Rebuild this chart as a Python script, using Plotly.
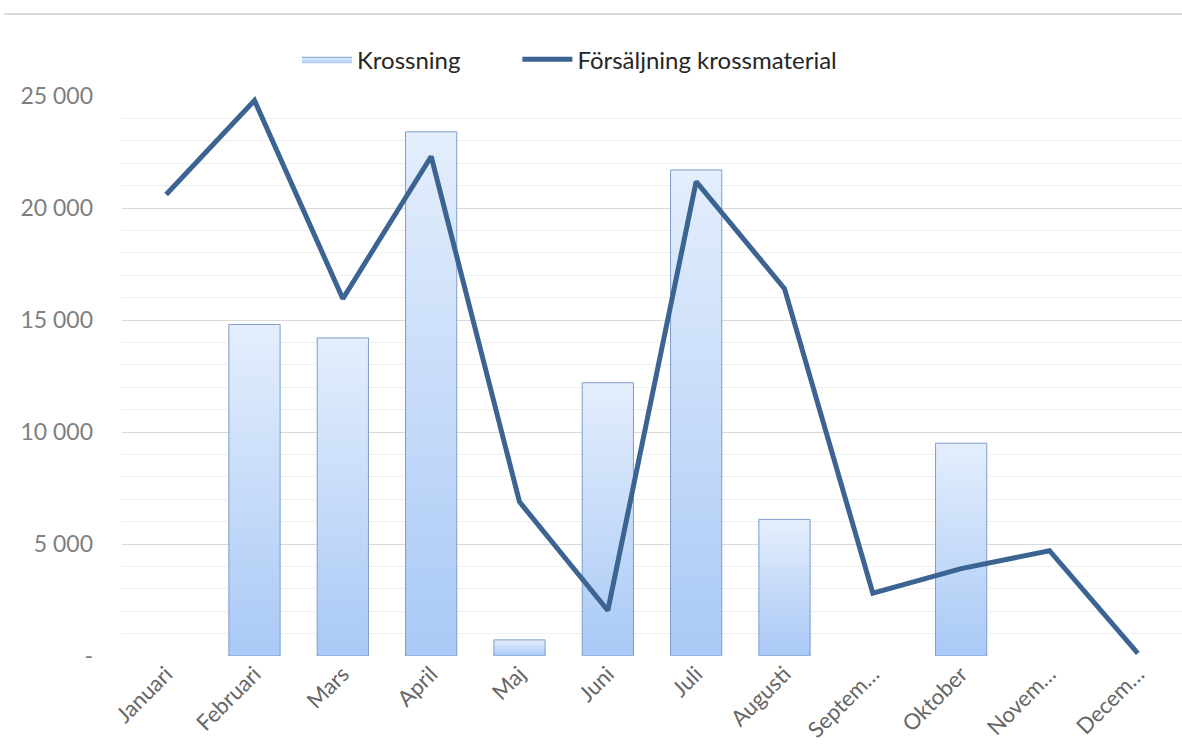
import plotly.graph_objects as go

# Monthly data
months = ["Januari", "Februari", "Mars", "April", "Maj", "Juni", "Juli",
          "Augusti", "Septem…", "Oktober", "Novem…", "Decem…"]
krossning = [None, 14800, 14200, 23400, 720, 12200, 21700, 6100, None, 9500, None, None]
forsaljning = [20600, 24800, 15950, 22300, 6880, 2030, 21180, 16400, 2800, 3900, 4700, 120]

y_tickvals = [0, 5000, 10000, 15000, 20000, 25000]
y_ticktext = ["-", "5 000", "10 000", "15 000", "20 000", "25 000"]

FONT = "Lato, 'Open Sans', sans-serif"
BAR_W = 0.58
LINE_COLOR = "#3b6492"

fig = go.Figure()

# Columns drawn as filled rectangles so each one gets its own vertical gradient
first = True
for i, v in enumerate(krossning):
    if v is None:
        continue
    x0, x1 = i - BAR_W / 2, i + BAR_W / 2
    fig.add_trace(go.Scatter(
        x=[x0, x0, x1, x1, x0],
        y=[0, v, v, 0, 0],
        mode="lines",
        fill="toself",
        fillgradient=dict(type="vertical",
                          colorscale=[[0, "#a9c9f6"], [1, "#e4eefc"]]),
        line=dict(color="#7f9cc8", width=1),
        name="Krossning",
        legend="legend",
        legendgroup="krossning",
        showlegend=first,
        hoverinfo="skip",
    ))
    first = False

fig.add_trace(go.Scatter(
    x=list(range(len(months))),
    y=forsaljning,
    mode="lines",
    line=dict(color=LINE_COLOR, width=5),
    name="Försäljning krossmaterial",
    legend="legend2",
    cliponaxis=False,
))

# Thin frame line along the top
fig.add_shape(type="line", xref="paper", yref="paper",
              x0=-0.111, x1=1.06, y0=1.1464, y1=1.1464,
              line=dict(color="#d9d9d9", width=2))

legend_common = dict(orientation="h", y=1.105, xanchor="left", yanchor="top",
                     font=dict(family=FONT, size=24, color="#262626"),
                     itemwidth=50, bgcolor="rgba(0,0,0,0)")

fig.update_layout(
    width=1182, height=756,
    margin=dict(l=122, r=0, t=96, b=100),
    paper_bgcolor="white", plot_bgcolor="white",
    font=dict(family=FONT, size=20, color="#262626"),
    showlegend=True,
    legend=dict(x=0.165, **legend_common),
    legend2=dict(x=0.373, **legend_common),
    xaxis=dict(
        range=[-0.5, len(months) - 0.5],
        tickmode="array", tickvals=list(range(len(months))), ticktext=months,
        tickangle=-45,
        tickfont=dict(family=FONT, size=22, color="#666666"),
        showgrid=False, zeroline=False, showline=False, ticks="",
    ),
    yaxis=dict(
        range=[0, 25000],
        tickmode="array", tickvals=y_tickvals, ticktext=y_ticktext,
        tickfont=dict(family=FONT, size=23, color="#808080"),
        showgrid=True, gridcolor="#d9d9d9", gridwidth=1,
        minor=dict(tick0=0, dtick=1000, showgrid=True, gridcolor="#efefef", gridwidth=1),
        zeroline=False, showline=False, ticks="", ticklabelstandoff=28,
    ),
)

fig.write_html("out.html")
